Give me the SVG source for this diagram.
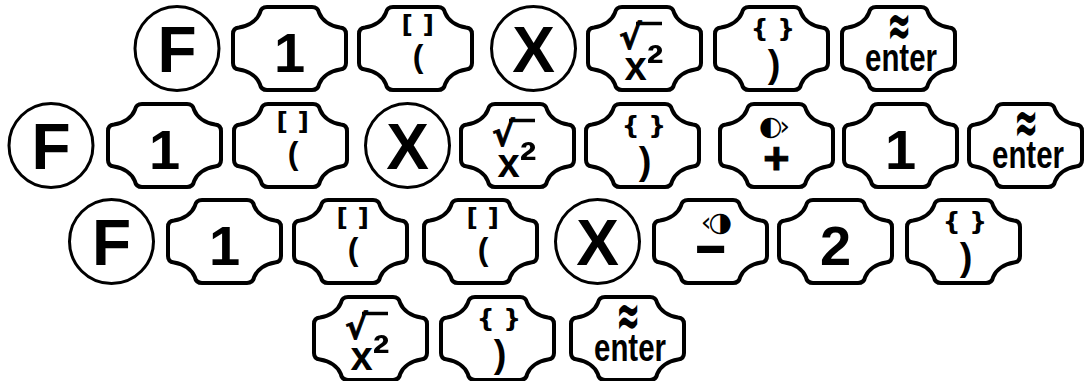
<svg xmlns="http://www.w3.org/2000/svg" width="1086" height="381" viewBox="0 0 1086 381">
<style>
.k{fill:#fff;stroke:#000;stroke-width:4;stroke-linejoin:round}
.c{fill:#fff;stroke:#000;stroke-width:3}
.bar{stroke:#000;stroke-width:3.5;stroke-linecap:butt}
text{fill:#000;text-anchor:middle}
.big{font-family:"Liberation Sans",Arial,sans-serif;font-weight:bold;font-size:64px}
.dig{font-family:"Liberation Sans",Arial,sans-serif;font-weight:bold;font-size:56px}
.sb{font-family:"DejaVu Sans",sans-serif;font-weight:bold;font-size:25px;letter-spacing:0.5px}
.cb{font-family:"DejaVu Sans",sans-serif;font-weight:bold;font-size:25px}
.lp{font-family:"Liberation Sans",Arial,sans-serif;font-weight:bold;font-size:32px}
.rp{font-family:"Liberation Sans",Arial,sans-serif;font-weight:bold;font-size:38px}
.rad{font-family:"DejaVu Sans",sans-serif;font-weight:bold;font-size:34px;text-anchor:start;stroke:#000;stroke-width:0.8}
.x2{font-family:"Liberation Sans",Arial,sans-serif;font-weight:bold;font-size:40px}
.sup{font-size:50px}
.ent{font-family:"Liberation Sans",Arial,sans-serif;font-weight:bold;font-size:38px}
.apx{font-family:"DejaVu Sans",sans-serif;font-weight:bold;font-size:36px}
.con{font-family:"DejaVu Sans",sans-serif;font-size:27px;letter-spacing:-3px}
.op{font-family:"Liberation Sans",Arial,sans-serif;font-weight:bold;font-size:45px;stroke:#000;stroke-width:1}
.mn{font-family:"Liberation Sans",Arial,sans-serif;font-weight:bold;font-size:50px;stroke:#000;stroke-width:2}
</style>
<defs>
<path id="key" class="k" d="M 34 0 H 79 Q 85 0 86.17 6 A 28 21 0 0 0 107 20.51 Q 113 21 113 27 V 56 Q 113 62 107 62.49 A 28 21 0 0 0 86.17 77 Q 85 83 79 83 H 34 Q 28 83 26.83 77 A 28 21 0 0 0 6 62.49 Q 0 62 0 56 V 27 Q 0 21 6 20.51 A 28 21 0 0 0 26.83 6 Q 28 0 34 0 Z"/>
</defs>

<!-- Row 1 -->
<g id="r1-f" transform="translate(177,48.5)"><circle class="c" r="42"/><text class="big" y="23">F</text></g>
<g id="r1-one" transform="translate(231,5)"><use href="#key" x="2" y="2"/><text class="dig" x="58.5" y="67">1</text></g>
<g id="r1-lparen" transform="translate(357,5)"><use href="#key" x="2" y="2"/><text class="sb" x="61" y="28">[ ]</text><text class="lp" x="61" y="62">(</text></g>
<g id="r1-x" transform="translate(533.5,48.5)"><circle class="c" r="42"/><text class="big" y="23">X</text></g>
<g id="r1-sqrt" transform="translate(586,5)"><use href="#key" x="2" y="2"/><text class="rad" x="33" y="44">√</text><line class="bar" x1="50" y1="18.5" x2="76" y2="18.5"/><text class="x2" x="58" y="75">x<tspan class="sup">²</tspan></text></g>
<g id="r1-rparen" transform="translate(713,5)"><use href="#key" x="2" y="2"/><text class="cb" x="60" y="32">{ }</text><text class="rp" x="61" y="72">)</text></g>
<g id="r1-enter" transform="translate(840,5)"><use href="#key" x="2" y="2"/><text class="apx" transform="translate(59,41) scale(0.8,1.7)">≈</text><text class="ent" x="61" y="66" textLength="72" lengthAdjust="spacingAndGlyphs">enter</text></g>

<!-- Row 2 -->
<g id="r2-f" transform="translate(51,145.5)"><circle class="c" r="42"/><text class="big" y="23">F</text></g>
<g id="r2-one" transform="translate(106,102)"><use href="#key" x="2" y="2"/><text class="dig" x="58.5" y="67">1</text></g>
<g id="r2-lparen" transform="translate(232,102)"><use href="#key" x="2" y="2"/><text class="sb" x="61" y="28">[ ]</text><text class="lp" x="61" y="62">(</text></g>
<g id="r2-x" transform="translate(407.5,145.5)"><circle class="c" r="42"/><text class="big" y="23">X</text></g>
<g id="r2-sqrt" transform="translate(459,102)"><use href="#key" x="2" y="2"/><text class="rad" x="33" y="44">√</text><line class="bar" x1="50" y1="18.5" x2="76" y2="18.5"/><text class="x2" x="58" y="75">x<tspan class="sup">²</tspan></text></g>
<g id="r2-rparen" transform="translate(584,102)"><use href="#key" x="2" y="2"/><text class="cb" x="60" y="32">{ }</text><text class="rp" x="61" y="72">)</text></g>
<g id="r2-plus" transform="translate(718,102)"><use href="#key" x="2" y="2"/><text class="con" x="55" y="33">◐›</text><text class="op" x="58.5" y="71.5">+</text></g>
<g id="r2-one-b" transform="translate(842,102)"><use href="#key" x="2" y="2"/><text class="dig" x="58.5" y="67">1</text></g>
<g id="r2-enter" transform="translate(967,102)"><use href="#key" x="2" y="2"/><text class="apx" transform="translate(59,41) scale(0.8,1.7)">≈</text><text class="ent" x="61" y="66" textLength="72" lengthAdjust="spacingAndGlyphs">enter</text></g>

<!-- Row 3 -->
<g id="r3-f" transform="translate(111.5,241.5)"><circle class="c" r="42"/><text class="big" y="23">F</text></g>
<g id="r3-one" transform="translate(166,198)"><use href="#key" x="2" y="2"/><text class="dig" x="58.5" y="67">1</text></g>
<g id="r3-lparen" transform="translate(292,198)"><use href="#key" x="2" y="2"/><text class="sb" x="61" y="28">[ ]</text><text class="lp" x="61" y="62">(</text></g>
<g id="r3-lparen-b" transform="translate(422,198)"><use href="#key" x="2" y="2"/><text class="sb" x="61" y="28">[ ]</text><text class="lp" x="61" y="62">(</text></g>
<g id="r3-x" transform="translate(597.5,241.5)"><circle class="c" r="42"/><text class="big" y="23">X</text></g>
<g id="r3-minus" transform="translate(652,198)"><use href="#key" x="2" y="2"/><text class="con" x="63" y="33">‹◑</text><text class="mn" x="58.5" y="68">−</text></g>
<g id="r3-two" transform="translate(777,198)"><use href="#key" x="2" y="2"/><text class="dig" x="58.5" y="67">2</text></g>
<g id="r3-rparen" transform="translate(905,198)"><use href="#key" x="2" y="2"/><text class="cb" x="60" y="32">{ }</text><text class="rp" x="61" y="72">)</text></g>

<!-- Row 4 -->
<g id="r4-sqrt" transform="translate(312,295)"><use href="#key" x="2" y="2"/><text class="rad" x="33" y="44">√</text><line class="bar" x1="50" y1="18.5" x2="76" y2="18.5"/><text class="x2" x="58" y="75">x<tspan class="sup">²</tspan></text></g>
<g id="r4-rparen" transform="translate(439,295)"><use href="#key" x="2" y="2"/><text class="cb" x="60" y="32">{ }</text><text class="rp" x="61" y="72">)</text></g>
<g id="r4-enter" transform="translate(569,295)"><use href="#key" x="2" y="2"/><text class="apx" transform="translate(59,41) scale(0.8,1.7)">≈</text><text class="ent" x="61" y="66" textLength="72" lengthAdjust="spacingAndGlyphs">enter</text></g>
</svg>
